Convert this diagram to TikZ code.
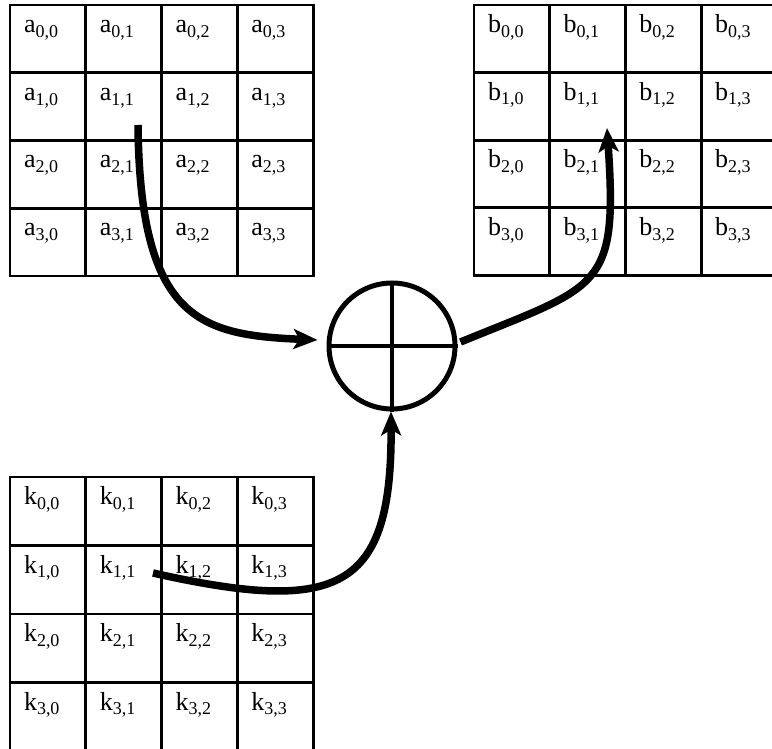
\documentclass[tikz,border=0pt]{standalone}
\usepackage{fontspec}
\setmainfont{Liberation Serif}
\usetikzlibrary{arrows.meta}

% subscript pair such as "1,2", set lowered and smaller
\newcommand\idx[1]{\raisebox{-4.8pt}{\fontsize{18}{18}\selectfont #1}}

\tikzset{
  cellbox/.style={draw, line width=2.8pt, inner sep=0pt, outer sep=0pt},
  celltext/.style={inner sep=0pt, outer sep=0pt, anchor=base west,
                   font=\fontsize{26}{26}\selectfont},
  xorbox/.style={circle, draw, line width=5pt, minimum size=126pt, inner sep=0pt},
  flow/.style={line width=7.5pt, -{Stealth[length=24pt, width=20pt, inset=6pt]}}
}

% 4x4 matrix of labelled cells: #1 letter, #2/#3 top-left corner, #4/#5 cell size
\newcommand\cellgrid[5]{%
  \foreach \row in {0,...,3}{%
    \foreach \col in {0,...,3}{%
      \node[cellbox, minimum width=#4pt, minimum height=#5pt, anchor=north west]
        (#1-\row-\col) at ({#2+\col*#4}, {#3+\row*#5}) {};
      \node[celltext] at ([xshift=14pt, yshift=-27.5pt]#1-\row-\col.north west)
        {#1\idx{\row,\col}};
    }%
  }%
}

\begin{document}
\begin{tikzpicture}[x=1pt, y=-1pt]
  \path[use as bounding box] (0,0) rectangle (772,749);
  \clip (0,0) rectangle (772,749);

  % input state, output state and key
  \cellgrid{a}{10}{5}{75.8}{67.75}
  \cellgrid{b}{474}{5}{75.7}{67.6}
  \cellgrid{k}{10}{477}{75.8}{68.5}

  % the XOR operator
  \node[xorbox] (xor) at (392,346) {};
  \draw[line width=4.5pt] (xor.north) -- (xor.south);
  \draw[line width=4.5pt] (xor.west) -- (xor.east);

  % tails of the connectors
  \coordinate (srcA) at (138,125);
  \coordinate (srcK) at (153,573);
  \coordinate (dstB) at (607,128);

  \draw[flow] (srcA) .. controls (140,320) and (200,335) .. ([shift={(-9,-6)}]xor.west);
  \draw[flow] (srcK) .. controls (340,615) and (392,590) .. ([xshift=-1pt]xor.south);
  \draw[flow] ([shift={(3,-4)}]xor.east) .. controls (600,285) and (618,290) .. (dstB);
\end{tikzpicture}
\end{document}
